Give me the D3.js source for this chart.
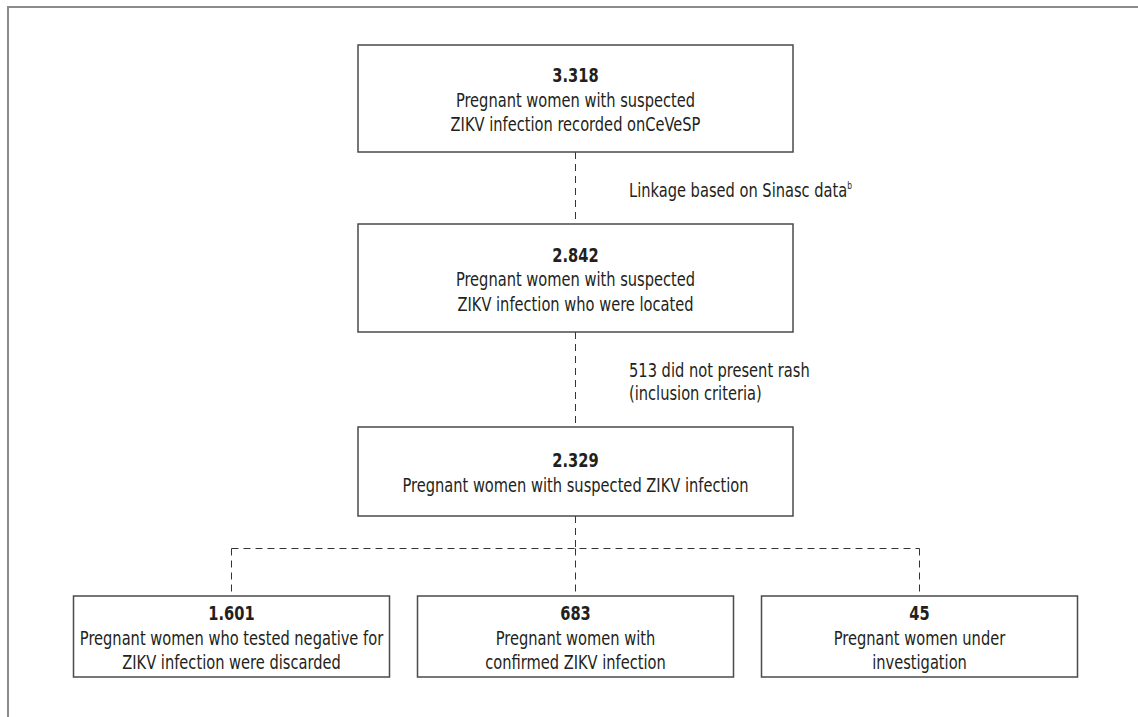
<!DOCTYPE html>
<html>
<head>
<meta charset="utf-8">
<script src="https://cdn.jsdelivr.net/npm/d3@7"></script>
<style>
  body { margin: 0; background: #fff; }
  svg text { font-family: "DejaVu Sans Condensed", "Liberation Sans Narrow", "Noto Sans", sans-serif; fill: #231f20; }
</style>
</head>
<body>
<svg id="flow" width="1138" height="717"></svg>
<script>
// flow steps (main column)
const stepCounts = ["3.318", "2.842", "2.329"];
const stepLabels = [
  ["Pregnant women with suspected", "ZIKV infection recorded onCeVeSP"],
  ["Pregnant women with suspected", "ZIKV infection who were located"],
  ["Pregnant women with suspected ZIKV infection"],
];
// notes between the main steps
const stepNotes = [
  ["Linkage based on Sinasc data"],
  ["513 did not present rash", "(inclusion criteria)"],
];
const noteSup = ["b", ""];
// final outcomes
const outcomeCounts = ["1.601", "683", "45"];
const outcomeLabels = [
  ["Pregnant women who tested negative for", "ZIKV infection were discarded"],
  ["Pregnant women  with", "confirmed ZIKV infection"],
  ["Pregnant women under", "investigation"],
];

const width = 1138;
const height = 717;
const lineH = 24.5;
const squeeze = 0.835; // condensed look

const svg = d3.select("#flow");

// outer frame (runs past the right and bottom edge)
svg
  .append("rect")
  .attr("x", 8)
  .attr("y", 7)
  .attr("width", width + 20)
  .attr("height", height + 20)
  .attr("fill", "none")
  .attr("stroke", "#8c8c8c")
  .attr("stroke-width", 2);

// layout of main boxes: top/bottom edges
const mainBox = { x0: 358, x1: 793 };
const mainTops = [45, 224, 427];
const mainBottoms = [152, 332, 516];
const cx = 575.5;

const outX = d3
  .scalePoint()
  .domain(d3.range(outcomeCounts.length))
  .range([231.5, 919.5]);
const outW = 316;
const outTop = 596;
const outBottom = 677;
const barY = 548.5;

function addText(g, x, y, anchor) {
  return g
    .append("text")
    .attr("transform", `translate(${x},${y}) scale(${squeeze},1)`)
    .attr("text-anchor", anchor)
    .style("font-size", "19.5px");
}

function drawBox(g, x0, y0, x1, y1, count, lines) {
  g.append("rect")
    .attr("x", x0)
    .attr("y", y0)
    .attr("width", x1 - x0)
    .attr("height", y1 - y0)
    .attr("fill", "#fff")
    .attr("stroke", "#4a4a4a")
    .attr("stroke-width", 1.5);
  const all = [count].concat(lines);
  const mid = (y0 + y1) / 2;
  const first = mid - ((all.length - 1) * lineH) / 2 + 8;
  all.forEach((d, i) => {
    addText(g, (x0 + x1) / 2, first + i * lineH, "middle")
      .style("font-weight", i === 0 ? "bold" : "normal")
      .text(d);
  });
}

// dashed connectors
const links = svg
  .append("g")
  .attr("stroke", "#333")
  .attr("stroke-width", 1)
  .attr("stroke-dasharray", "7,5")
  .attr("fill", "none");

stepNotes.forEach((n, i) => {
  links.append("line")
    .attr("x1", cx).attr("x2", cx)
    .attr("y1", mainBottoms[i]).attr("y2", mainTops[i + 1]);
});
links.append("line")
  .attr("x1", cx).attr("x2", cx)
  .attr("y1", mainBottoms[2]).attr("y2", barY);
links.append("line")
  .attr("x1", outX(0)).attr("x2", outX(outcomeCounts.length - 1))
  .attr("y1", barY).attr("y2", barY);
outcomeCounts.forEach((c, i) => {
  links.append("line")
    .attr("x1", outX(i)).attr("x2", outX(i))
    .attr("y1", barY).attr("y2", outTop);
});

// notes
stepNotes.forEach((lines, i) => {
  const mid = (mainBottoms[i] + mainTops[i + 1]) / 2;
  const first = mid - ((lines.length - 1) * 23) / 2 + 9;
  lines.forEach((t, j) => {
    const txt = addText(svg, 629, first + j * 23, "start").text(t);
    if (j === lines.length - 1 && noteSup[i]) {
      txt.append("tspan")
        .attr("dy", -8)
        .style("font-size", "10px")
        .text(noteSup[i]);
    }
  });
});

// main boxes
stepCounts.forEach((c, i) => {
  drawBox(svg.append("g"), mainBox.x0, mainTops[i], mainBox.x1, mainBottoms[i], c, stepLabels[i]);
});

// outcome boxes
outcomeCounts.forEach((c, i) => {
  drawBox(svg.append("g"), outX(i) - outW / 2, outTop, outX(i) + outW / 2, outBottom, c, outcomeLabels[i]);
});
</script>
</body>
</html>
